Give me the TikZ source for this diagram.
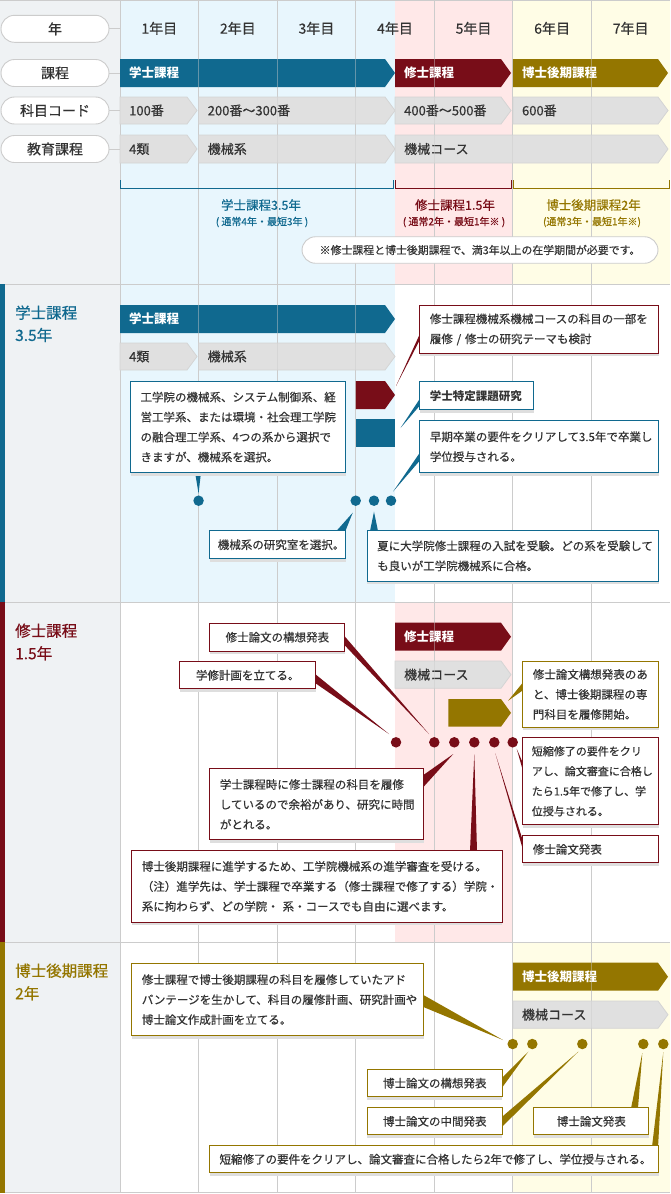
\documentclass[tikz,border=0pt]{standalone}
\usepackage{fontspec}
\setmainfont{Noto Sans CJK JP}[UprightFeatures={FakeBold=0.45}]
\usetikzlibrary{calc,shadows}
\definecolor{cblue}{RGB}{16,105,143}
\definecolor{cred}{RGB}{120,13,24}
\definecolor{colive}{RGB}{148,118,0}
\definecolor{cgrayfill}{RGB}{224,224,224}
\definecolor{cgrayedge}{RGB}{212,212,212}
\definecolor{bgblue}{RGB}{232,246,253}
\definecolor{bgpink}{RGB}{255,232,232}
\definecolor{bgyellow}{RGB}{255,253,230}
\definecolor{bgleft}{RGB}{239,242,244}
\definecolor{gridc}{RGB}{204,204,204}
\definecolor{txt}{RGB}{51,51,51}
\definecolor{shadowc}{RGB}{222,222,222}
\pgfdeclarelayer{bglayer}
\pgfdeclarelayer{ptrlayer}
\pgfsetlayers{bglayer,ptrlayer,main}
\tikzset{
  grayb/.style={fill=cgrayfill, draw=cgrayedge, line width=0.8pt},
  barw/.style={text=white, font=\fontsize{12.5}{12.5}\selectfont\bfseries},
  barg/.style={text=txt, font=\fontsize{13}{13}\selectfont},
  pillst/.style={draw=gridc, fill=white, line width=0.9pt, rounded corners=13.5pt, minimum height=27pt, inner sep=0pt, text=txt},
  yearlab/.style={text=txt, inner sep=0pt, font=\fontsize{14}{14}\selectfont},
  tboxst/.style={fill=white, line width=1.1pt, inner xsep=10pt, inner ysep=0pt, text=txt, font=\fontsize{11.5}{20}\selectfont, general shadow={fill=shadowc, shadow yshift=-3pt}},
  dotst/.style={circle, inner sep=0pt, minimum size=10.5pt},
  sttl/.style={anchor=west, inner sep=0pt, font=\fontsize{15.5}{15.5}\selectfont},
  brk/.style={line width=1pt},
  gridl/.style={draw=gridc, line width=1pt},
  blab/.style={inner sep=0pt, font=\fontsize{12.5}{12.5}\selectfont},
  bsub/.style={inner sep=0pt, font=\fontsize{10}{10}\selectfont},
}
\newcommand{\bararrow}[8]{%
  \path[#6] (#2,#4) -- ({#3-10},#4) -- (#3,{(#4+#5)/2}) -- ({#3-10},#5) -- (#2,#5) -- cycle;
  \node[anchor=west, inner sep=0pt, #7] (#1) at ({#2+9},{(#4+#5)/2}) {#8};}
\newcommand{\tbox}[7]{%
  \pgfmathsetmacro{\tbtw}{#4-20}%
  \node[tboxst, anchor=north west, minimum width=#4, minimum height=#5, text width=\tbtw pt, #6] (#1) at (#2,#3) {#7};}
\newcommand{\ptr}[4]{%
  \begin{pgfonlayer}{ptrlayer}\fill[#1] #2 -- #3 -- #4 -- cycle;\end{pgfonlayer}}
\begin{document}
\begin{tikzpicture}[x=1pt,y=-1pt]
\useasboundingbox (0,0) rectangle (670,1194);
\begin{pgfonlayer}{bglayer}
\fill[white] (0,0) rectangle (670,1194);
\fill[bgleft] (0,0) rectangle (120,1192.5);
\fill[bgblue] (120,0) rectangle (395,602);
\fill[bgpink] (395,0) rectangle (512.857,284);
\fill[bgyellow] (512.857,0) rectangle (670,284);
\fill[bgpink] (395,602) rectangle (512.857,942);
\fill[bgyellow] (512.857,942) rectangle (670,1192.5);
\foreach \k in {0,...,6} \draw[gridl] ({120+78.5714*\k},0) -- ({120+78.5714*\k},1192.5);
\foreach \yy in {0.5,284,602,942,1192.5} \draw[gridl] (0,\yy) -- (670,\yy);
\fill[cblue] (0,284) rectangle (5,602);
\fill[cred] (0,602) rectangle (5,942);
\fill[colive] (0,942) rectangle (5,1192.5);
% header bars
\bararrow{hb1}{120}{395}{59}{87}{fill=cblue}{barw}{学士課程}
\bararrow{hb2}{395}{511}{59}{87}{fill=cred}{barw}{修士課程}
\bararrow{hb3}{512.857}{668}{59}{87}{fill=colive}{barw}{博士後期課程}
\bararrow{hc1}{120}{197}{97}{124}{grayb}{barg}{100番}
\bararrow{hc2}{198.571}{395}{97}{124}{grayb}{barg}{200番〜300番}
\bararrow{hc3}{395}{511}{97}{124}{grayb}{barg}{400番〜500番}
\bararrow{hc4}{512.857}{668}{97}{124}{grayb}{barg}{600番}
\bararrow{hd1}{120}{197}{135}{163}{grayb}{barg}{4類}
\bararrow{hd2}{198.571}{395}{135}{163}{grayb}{barg}{機械系}
\bararrow{hd3}{395}{668}{135}{163}{grayb}{barg}{機械コース}
% section 1 bars
\bararrow{s1a}{120}{395}{305}{333}{fill=cblue}{barw}{学士課程}
\bararrow{s1b}{120}{197}{343}{370}{grayb}{barg}{4類}
\bararrow{s1c}{198.571}{395}{343}{370}{grayb}{barg}{機械系}
\bararrow{s1d}{355.714}{395}{381}{409}{fill=cred}{barw}{}
\fill[cblue] (355.714,419) rectangle (395,447);
\coordinate (s1redtip) at (395,395);
\coordinate (s1bluerect) at (395,433);
% section 2 bars
\bararrow{s2a}{395}{511}{622.7}{650.7}{fill=cred}{barw}{修士課程}
\bararrow{s2b}{395}{511}{661}{688.3}{grayb}{barg}{機械コース}
\bararrow{s2c}{448.3}{511}{699}{726.7}{fill=colive}{barw}{}
\coordinate (s2olivetip) at (511,712.85);
% section 3 bars
\bararrow{s3a}{512.857}{668}{962.7}{990.7}{fill=colive}{barw}{博士後期課程}
\bararrow{s3b}{512.857}{668}{1001}{1028.3}{grayb}{barg}{機械コース}
\foreach \k in {1,...,6} \draw[gridl, opacity=0.45] ({120+78.5714*\k},0) -- ({120+78.5714*\k},1192.5);
\end{pgfonlayer}
% header pills
\node[pillst, minimum width=108pt, font=\fontsize{14}{14}\selectfont] (pl1) at (55,28.8) {年};
\node[pillst, minimum width=108pt, font=\fontsize{14}{14}\selectfont] (pl2) at (55,73) {課程};
\node[pillst, minimum width=108pt, font=\fontsize{14}{14}\selectfont] (pl3) at (55,110.5) {科目コード};
\node[pillst, minimum width=108pt, font=\fontsize{14}{14}\selectfont] (pl4) at (55,149) {教育課程};
\draw[gridl] (pl1.east) -- ++(11,0);
\draw[gridl] (pl2.east) -- ++(11,0);
\draw[gridl] (pl3.east) -- ++(11,0);
\draw[gridl] (pl4.east) -- ++(11,0);
% year labels
\node[yearlab] (yr1) at (159.29,28.3) {1年目};
\node[yearlab] (yr2) at (237.86,28.3) {2年目};
\node[yearlab] (yr3) at (316.43,28.3) {3年目};
\node[yearlab] (yr4) at (395,28.3) {4年目};
\node[yearlab] (yr5) at (473.57,28.3) {5年目};
\node[yearlab] (yr6) at (552.14,28.3) {6年目};
\node[yearlab] (yr7) at (630.71,28.3) {7年目};
% brackets
\draw[brk, cblue] (120.5,180) -- (120.5,188) -- (393.5,188) -- (393.5,180);
\draw[brk, cred] (395.5,180) -- (395.5,188) -- (511,188) -- (511,180);
\draw[brk, colive] (513.5,180) -- (513.5,188) -- (669,188) -- (669,180);
\node[blab, text=cblue] (bl1) at (261,205) {学士課程3.5年};
\node[bsub, text=cblue] (bs1) at (262,222) {( 通常4年・最短3年 )};
\node[blab, text=cred] (bl2) at (455,205) {修士課程1.5年};
\node[bsub, text=cred] (bs2) at (454,222) {( 通常2年・最短1年※ )};
\node[blab, text=colive] (bl3) at (593.5,205) {博士後期課程2年};
\node[bsub, text=colive] (bs3) at (592,222) {(通常3年・最短1年※)};
\node[pillst, minimum width=356pt, minimum height=26.5pt, font=\fontsize{10.9}{10.9}\selectfont] (note) at (480,250) {※修士課程と博士後期課程で、満3年以上の在学期間が必要です。};
% section titles
\node[sttl, text=cblue] (t1a) at (15,312.7) {学士課程};
\node[sttl, text=cblue] (t1b) at (15,335) {3.5年};
\node[sttl, text=cred] (t2a) at (15,630.7) {修士課程};
\node[sttl, text=cred] (t2b) at (15,653.3) {1.5年};
\node[sttl, text=colive] (t3a) at (15,970.7) {博士後期課程};
\node[sttl, text=colive] (t3b) at (15,993.3) {2年};
% section 1 boxes
\tbox{b1}{130}{381}{215}{91}{draw=cblue, align=left}{工学院の機械系、システム制御系、経\\営工学系、または環境・社会理工学院\\の融合理工学系、4つの系から選択で\\きますが、機械系を選択。}
\tbox{b2}{419.3}{305}{239}{47.7}{draw=cred, align=left}{修士課程機械系機械コースの科目の一部を\\履修 / 修士の研究テーマも検討}
\tbox{b3}{419.3}{381}{114}{28.3}{draw=cblue, align=left}{\bfseries 学士特定課題研究}
\tbox{b4}{419.3}{420}{239}{52.3}{draw=cblue, align=left}{早期卒業の要件をクリアして3.5年で卒業し\\学位授与される。}
\tbox{b5}{209.3}{530}{135.7}{28.3}{draw=cblue, align=left, inner xsep=8pt, text width=120pt}{機械系の研究室を選択。}
\tbox{b6}{366.7}{530}{291.6}{50.7}{draw=cblue, align=left}{夏に大学院修士課程の入試を受験。どの系を受験して\\も良いが工学院機械系に合格。}
\node[dotst, fill=cblue] (d1) at (198.571,500.7) {};
\node[dotst, fill=cblue] (d2) at (355.714,500.7) {};
\node[dotst, fill=cblue] (d3) at (374,500.7) {};
\node[dotst, fill=cblue] (d4) at (391,500.7) {};
\ptr{cblue}{($(b1.south west)+(65,-1)$)}{($(b1.south west)+(71,-1)$)}{($(d1)+(0,-7)$)}
\ptr{cred}{($(b2.north west)+(1,28)$)}{($(b2.north west)+(1,34)$)}{($(s1redtip)+(1,-9)$)}
\ptr{cblue}{($(b3.north west)+(1,17)$)}{($(b3.north west)+(1,24)$)}{($(s1bluerect)+(5.5,-5)$)}
\ptr{cblue}{($(b4.north west)+(1,32)$)}{($(b4.north west)+(1,40)$)}{($(d4)+(2,-9)$)}
\ptr{cblue}{($(b5.north east)+(-10,1)$)}{($(b5.north east)+(-1,1)$)}{($(d2)+(-3,12)$)}
\ptr{cblue}{($(b6.north west)+(3.3,1)$)}{($(b6.north west)+(11.3,1)$)}{($(d3)+(0,11)$)}
% section 2 boxes
\tbox{c1}{209.3}{622.7}{135}{28}{draw=cred, align=center}{修士論文の構想発表}
\tbox{c2}{179.3}{661}{135.7}{27.3}{draw=cred, align=center}{学修計画を立てる。}
\tbox{c3}{209.3}{768.3}{214}{71}{draw=cred, align=left}{学士課程時に修士課程の科目を履修\\しているので余裕があり、研究に時間\\がとれる。}
\tbox{c4}{131.3}{850}{370.4}{71.7}{draw=cred, align=left}{博士後期課程に進学するため、工学院機械系の進学審査を受ける。\\（注）進学先は、学士課程で卒業する（修士課程で修了する）学院・\\系に拘わらず、どの学院・ 系・コースでも自由に選べます。}
\tbox{c5}{522.3}{661}{136}{65.7}{draw=colive, align=left}{修士論文構想発表のあ\\と、博士後期課程の専\\門科目を履修開始。}
\tbox{c6}{522.3}{737.3}{136}{86.7}{draw=cred, align=left, inner xsep=9pt, text width=118pt, font=\fontsize{11}{20}\selectfont}{短縮修了の要件をクリ\\アし、論文審査に合格し\\たら1.5年で修了し、学\\位授与される。}
\tbox{c7}{522.3}{835.3}{136}{27}{draw=cred, align=left}{修士論文発表}
\node[dotst, fill=cred] (e1) at (396,742.3) {};
\node[dotst, fill=cred] (e2) at (434.3,742.3) {};
\node[dotst, fill=cred] (e3) at (454.3,742.3) {};
\node[dotst, fill=cred] (e4) at (474.3,742.3) {};
\node[dotst, fill=cred] (e5) at (494.3,742.3) {};
\node[dotst, fill=cred] (e6) at (512.7,742.3) {};
\ptr{cred}{($(c1.north east)+(-1,13.3)$)}{($(c1.north east)+(-1,22.3)$)}{($(e2)+(-5.3,-8.3)$)}
\ptr{cred}{($(c2.north east)+(-1,13)$)}{($(c2.north east)+(-1,22)$)}{($(e1)+(-7,-8.3)$)}
\ptr{cred}{($(c3.north east)+(-1,6.7)$)}{($(c3.north east)+(-1,18.7)$)}{($(e3)+(-1,11.7)$)}
\ptr{cred}{($(c4.north west)+(338.7,1)$)}{($(c4.north west)+(345.7,1)$)}{($(e4)+(0,11.7)$)}
\ptr{colive}{($(c5.north west)+(1,21)$)}{($(c5.north west)+(1,29)$)}{($(s2olivetip)+(-3,-12)$)}
\ptr{cred}{($(c6.north west)+(1,26.7)$)}{($(c6.north west)+(1,34.7)$)}{($(e6)+(4,6.5)$)}
\ptr{cred}{($(c7.north west)+(1,6.7)$)}{($(c7.north west)+(1,15.7)$)}{($(e5)+(1,11)$)}
% section 3 boxes
\tbox{g1}{131.3}{963.3}{292}{71.7}{draw=colive, align=left}{修士課程で博士後期課程の科目を履修していたアド\\バンテージを生かして、科目の履修計画、研究計画や\\博士論文作成計画を立てる。}
\tbox{g2}{366.7}{1069.3}{135}{26.7}{draw=colive, align=center}{博士論文の構想発表}
\tbox{g3}{366.7}{1107.3}{135}{27}{draw=colive, align=center}{博士論文の中間発表}
\tbox{g4}{533.3}{1107.3}{115}{27}{draw=colive, align=center}{博士論文発表}
\tbox{g5}{209}{1145}{449.3}{27.3}{draw=colive, align=left}{短縮修了の要件をクリアし、論文審査に合格したら2年で修了し、学位授与される。}
\node[dotst, fill=colive] (f1) at (512.7,1044) {};
\node[dotst, fill=colive] (f2) at (532.3,1044) {};
\node[dotst, fill=colive] (f3) at (582.3,1044) {};
\node[dotst, fill=colive] (f4) at (643.3,1044) {};
\node[dotst, fill=colive] (f5) at (663.3,1044) {};
\ptr{colive}{($(g1.north east)+(-1,31.7)$)}{($(g1.north east)+(-1,43.7)$)}{($(f1)+(-9.7,-4)$)}
\ptr{colive}{($(g2.north east)+(-1,8.7)$)}{($(g2.north east)+(-1,18.7)$)}{($(f2)+(-4,7.7)$)}
\ptr{colive}{($(g3.north east)+(-1,9.7)$)}{($(g3.north east)+(-1,19.7)$)}{($(f3)+(-4,7.7)$)}
\ptr{colive}{($(g4.north west)+(97.7,1)$)}{($(g4.north west)+(104.7,1)$)}{($(f4)+(-1,9)$)}
\ptr{colive}{($(g5.north east)+(-7.3,1)$)}{($(g5.north east)+(-1.3,1)$)}{($(f5)+(0,8)$)}
\end{tikzpicture}
\end{document}
